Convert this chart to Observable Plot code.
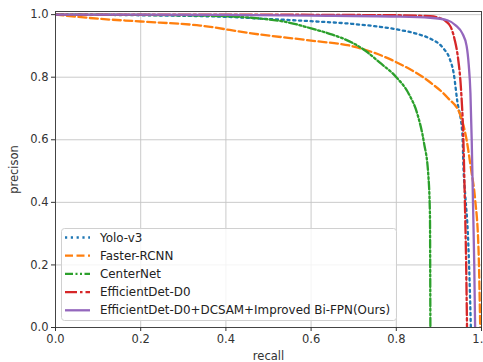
<!DOCTYPE html>
<html>
<head>
<meta charset="utf-8">
<script src="https://cdn.jsdelivr.net/npm/d3@7"></script>
<script src="https://cdn.jsdelivr.net/npm/@observablehq/plot@0.6"></script>
<style>
  html, body { margin: 0; padding: 0; background: #fff; }
  #wrap { position: relative; width: 483px; height: 362px; font-family: "DejaVu Sans", sans-serif; }
  #legend { position: absolute; left: 61px; top: 228px; }
</style>
</head>
<body>
<div id="wrap"><div id="chart"></div><div id="legend"></div></div>
<script>
const seriesNames = ["Yolo-v3", "Faster-RCNN", "CenterNet", "EfficientDet-D0", "EfficientDet-D0+DCSAM+Improved Bi-FPN(Ours)"];
const seriesColors = ["#1f77b4", "#ff7f0e", "#2ca02c", "#d62728", "#9467bd"];
const seriesDash = ["2.2,3.6", "8,3.5", "8,2.5,2,2.5,2,2.5", "12,3,2.5,3", "none"];

const yoloRecall    = [0, 0.2, 0.4, 0.5, 0.6, 0.7, 0.8, 0.85, 0.88, 0.91, 0.925, 0.935, 0.943, 0.955, 0.958, 0.962, 0.968, 0.972, 0.975];
const yoloPrecision = [1.0, 0.998, 0.993, 0.986, 0.979, 0.97, 0.953, 0.938, 0.923, 0.893, 0.86, 0.81, 0.725, 0.62, 0.5, 0.42, 0.3, 0.15, 0.0];

const frcnnRecall    = [0, 0.1, 0.2, 0.34, 0.46, 0.6, 0.7, 0.8, 0.88, 0.92, 0.95, 0.965, 0.975, 0.985, 0.993, 0.997];
const frcnnPrecision = [1.0, 0.987, 0.978, 0.965, 0.94, 0.917, 0.898, 0.848, 0.783, 0.735, 0.68, 0.6, 0.51, 0.41, 0.25, 0.0];

const centerRecall    = [0, 0.2, 0.34, 0.46, 0.55, 0.6, 0.65, 0.7, 0.73, 0.76, 0.8, 0.83, 0.85, 0.865, 0.875, 0.879, 0.88];
const centerPrecision = [1.0, 0.999, 0.997, 0.99, 0.974, 0.956, 0.936, 0.908, 0.882, 0.848, 0.8, 0.745, 0.68, 0.59, 0.49, 0.36, 0.0];

const effRecall    = [0, 0.4, 0.8, 0.88, 0.9, 0.915, 0.928, 0.937, 0.945, 0.952, 0.957, 0.961, 0.964, 0.966];
const effPrecision = [1.0, 1.0, 0.998, 0.995, 0.99, 0.98, 0.96, 0.92, 0.86, 0.76, 0.62, 0.4, 0.2, 0.0];

const oursRecall    = [0, 0.2, 0.4, 0.6, 0.8, 0.88, 0.92, 0.94, 0.955, 0.965, 0.97, 0.974, 0.977, 0.98, 0.983, 0.985];
const oursPrecision = [1.0, 1.0, 0.999, 0.997, 0.994, 0.99, 0.982, 0.965, 0.94, 0.9, 0.84, 0.75, 0.6, 0.4, 0.2, 0.0];

const xTicks = [0, 0.2, 0.4, 0.6, 0.8, 1.0];
const yTicks = [0, 0.2, 0.4, 0.6, 0.8, 1.0];

const recalls = [yoloRecall, frcnnRecall, centerRecall, effRecall, oursRecall];
const precisions = [yoloPrecision, frcnnPrecision, centerPrecision, effPrecision, oursPrecision];

const lineMarks = seriesNames.map((name, i) => {
  const rows = recalls[i].map((r, j) => ({recall: r, precision: precisions[i][j], series: name}));
  return Plot.line(rows, {
    x: "recall", y: "precision",
    stroke: seriesColors[i],
    strokeWidth: 2.3,
    strokeDasharray: seriesDash[i] === "none" ? undefined : seriesDash[i],
    curve: "monotone-x",
    clip: true
  });
});

const chart = Plot.plot({
  width: 483,
  height: 362,
  marginLeft: 55,
  marginRight: 2,
  marginTop: 11,
  marginBottom: 35,
  style: { fontFamily: "DejaVu Sans, sans-serif", fontSize: "11.5px", color: "#333", background: "#fff", overflow: "visible" },
  x: { domain: [0, 1], ticks: xTicks, tickFormat: d3.format(".1f"), label: null },
  y: { domain: [0, 1.01], ticks: yTicks, tickFormat: d3.format(".1f"), label: null },
  marks: [
    Plot.gridX(xTicks, { stroke: "#c4c4c4", strokeOpacity: 1, strokeWidth: 0.9 }),
    Plot.gridY(yTicks, { stroke: "#c4c4c4", strokeOpacity: 1, strokeWidth: 0.9 }),
    ...lineMarks,
    Plot.frame({ stroke: "#444", strokeWidth: 1 }),
    Plot.axisX(xTicks, { tickSize: 4, tickPadding: 3, tickFormat: d3.format(".1f"), fontSize: 11.5, label: "recall", labelAnchor: "center", labelArrow: "none", labelOffset: 32 }),
    Plot.axisY(yTicks, { tickSize: 4, tickPadding: 3, tickFormat: d3.format(".1f"), fontSize: 11.5, label: "precison", labelAnchor: "center", labelArrow: "none", labelOffset: 46 })
  ]
});
document.getElementById("chart").appendChild(chart);

// legend
const lw = 336, lh = 93;
const leg = d3.select("#legend").append("svg").attr("width", lw).attr("height", lh);
leg.append("rect").attr("x", 0.5).attr("y", 0.5).attr("width", lw - 1).attr("height", lh - 1)
  .attr("rx", 3).attr("fill", "#fff").attr("fill-opacity", 0.8).attr("stroke", "#d0d0d0");
seriesNames.forEach((name, i) => {
  const cy = 9.5 + i * 18.2;
  leg.append("line").attr("x1", 4).attr("x2", 29).attr("y1", cy).attr("y2", cy)
    .attr("stroke", seriesColors[i]).attr("stroke-width", 2.3)
    .attr("stroke-dasharray", seriesDash[i]);
  leg.append("text").attr("x", 39).attr("y", cy).attr("dy", "0.35em")
    .attr("font-family", "DejaVu Sans, sans-serif").attr("font-size", 11.9).attr("fill", "#222")
    .text(name);
});
</script>
</body>
</html>
